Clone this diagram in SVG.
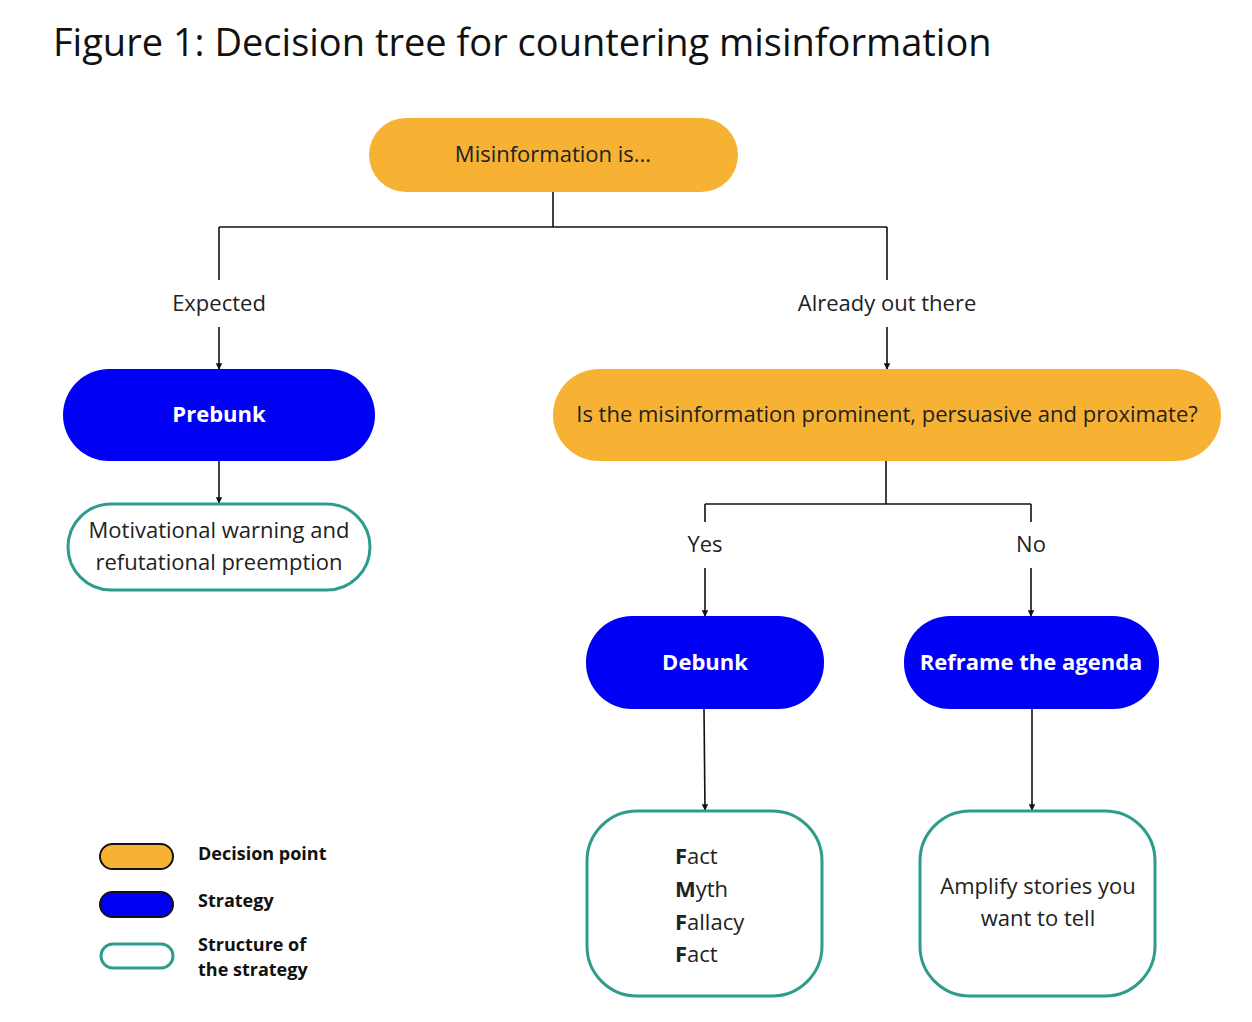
<svg xmlns="http://www.w3.org/2000/svg" width="1252" height="1022" viewBox="0 0 1252 1022">
<defs>
<style>
text{font-family:"Open Sans","Noto Sans",sans-serif;fill:#222}
.t{font-size:22px;text-anchor:middle}
.w{font-size:22px;font-weight:bold;fill:#fff;text-anchor:middle}
.lg{font-size:18px;font-weight:bold;fill:#111}
.dec{fill:#F7B234}
.str{fill:#0000F5}
.st{fill:#fff;stroke:#2E9C8C;stroke-width:3}
.c{stroke:#111;stroke-width:1.6;fill:none}
</style>
<marker id="a" viewBox="0 0 10 10" refX="9" refY="5" markerWidth="4" markerHeight="4" orient="auto"><path d="M0,0L10,5L0,10z" fill="#111"/></marker>
</defs>
<rect width="1252" height="1022" fill="#fff"/>
<text x="53" y="56" style="font-size:38px;fill:#111">Figure 1: Decision tree for countering misinformation</text>
<g id="connectors">
<path class="c" d="M553,192V227M219,227H887M219,227V280M887,227V280"/>
<path class="c" d="M219,327V369" marker-end="url(#a)"/>
<path class="c" d="M887,327V369" marker-end="url(#a)"/>
<path class="c" d="M219,461V503" marker-end="url(#a)"/>
<path class="c" d="M886,461V504M705,504H1031M705,504V522M1031,504V522"/>
<path class="c" d="M705,568V616" marker-end="url(#a)"/>
<path class="c" d="M1031,568V616" marker-end="url(#a)"/>
<path class="c" d="M704,709L705,810" marker-end="url(#a)"/>
<path class="c" d="M1032,709V810" marker-end="url(#a)"/>
</g>
<g id="root"><rect class="dec" x="369" y="118" width="369" height="74" rx="37"/><text class="t" x="553" y="162">Misinformation is...</text></g>
<text class="t" x="219" y="311">Expected</text>
<text class="t" x="887" y="311">Already out there</text>
<g id="prebunk"><rect class="str" x="63" y="369" width="312" height="92" rx="46"/><text class="w" x="219" y="422">Prebunk</text></g>
<g id="q"><rect class="dec" x="553" y="369" width="668" height="92" rx="46"/><text class="t" x="887" y="422">Is the misinformation prominent, persuasive and proximate?</text></g>
<g id="mw"><rect class="st" x="68" y="504" width="302" height="86" rx="43"/><text class="t" x="219" y="538">Motivational warning and</text><text class="t" x="219" y="570">refutational preemption</text></g>
<text class="t" x="705" y="552">Yes</text>
<text class="t" x="1031" y="552">No</text>
<g id="debunk"><rect class="str" x="586" y="616" width="238" height="93" rx="46"/><text class="w" x="705" y="670">Debunk</text></g>
<g id="reframe"><rect class="str" x="904" y="616" width="255" height="93" rx="46"/><text class="w" x="1031" y="670">Reframe the agenda</text></g>
<g id="fmff"><rect class="st" x="587" y="811" width="235" height="185" rx="50"/>
<text x="675" y="864" style="font-size:22px"><tspan font-weight="bold">F</tspan>act</text>
<text x="675" y="897" style="font-size:22px"><tspan font-weight="bold">M</tspan>yth</text>
<text x="675" y="930" style="font-size:22px"><tspan font-weight="bold">F</tspan>allacy</text>
<text x="675" y="962" style="font-size:22px"><tspan font-weight="bold">F</tspan>act</text></g>
<g id="amp"><rect class="st" x="920" y="811" width="235" height="185" rx="50"/><text class="t" x="1038" y="894">Amplify stories you</text><text class="t" x="1038" y="926">want to tell</text></g>
<g id="legend">
<rect class="dec" x="100" y="844" width="73" height="25" rx="12.5" stroke="#111" stroke-width="2"/>
<rect class="str" x="100" y="892" width="73" height="25" rx="12.5" stroke="#111" stroke-width="2"/>
<rect class="st" x="101" y="944" width="72" height="24" rx="12"/>
<text class="lg" x="198" y="860">Decision point</text>
<text class="lg" x="198" y="907">Strategy</text>
<text class="lg" x="198" y="951">Structure  of</text>
<text class="lg" x="198" y="976">the strategy</text>
</g>
</svg>
